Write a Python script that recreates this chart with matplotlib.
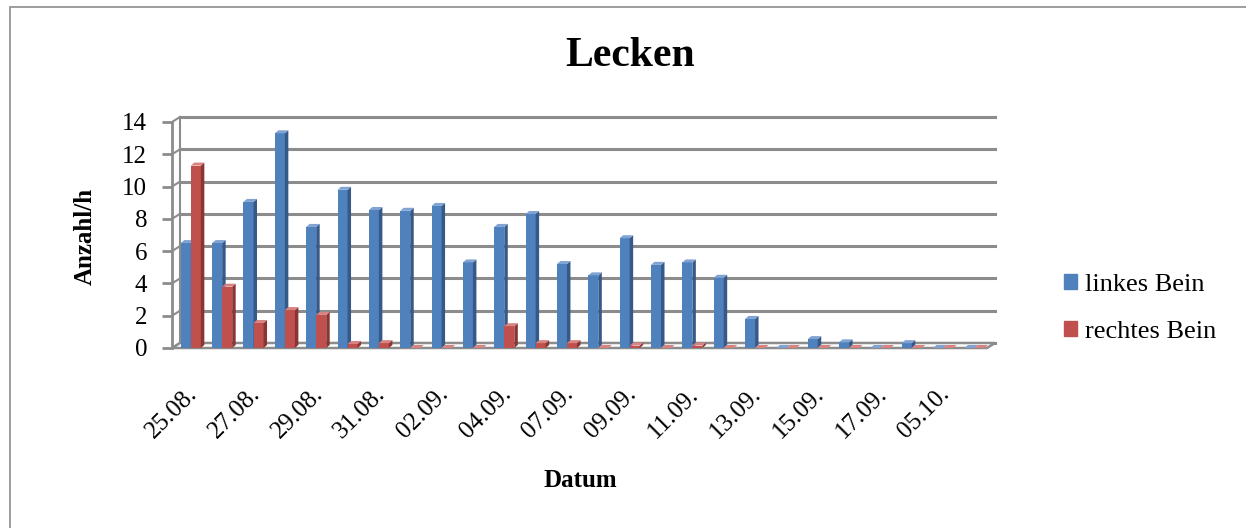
import matplotlib.pyplot as plt
from matplotlib.patches import Polygon, Rectangle, Patch

plt.rcParams['font.family'] = ['Liberation Serif', 'DejaVu Serif']

# Werte (Anzahl/h) je Tag
links = [6.5, 6.5, 9.05, 13.3, 7.5, 9.8, 8.55, 8.5, 8.8, 5.3, 7.5, 8.3, 5.2,
         4.5, 6.8, 5.15, 5.3, 4.35, 1.8, 0, 0.55, 0.35, 0, 0.3, 0, 0]
rechts = [11.3, 3.8, 1.55, 2.35, 2.05, 0.25, 0.3, 0, 0, 0, 1.35, 0.3, 0.3,
          0, 0.15, 0, 0.15, 0, 0, 0, 0, 0, 0, 0, 0, 0]
# nur jede zweite Kategorie ist beschriftet
tick_labels = ['25.08.', '27.08.', '29.08.', '31.08.', '02.09.', '04.09.', '07.09.',
               '09.09.', '11.09.', '13.09.', '15.09.', '17.09.', '05.10.']
yticks = [0, 2, 4, 6, 8, 10, 12, 14]

blue, blue_side, blue_top = '#4F81BD', '#36598A', '#7FA3D3'
red, red_side, red_top = '#C0504D', '#8A3533', '#D88380'
grid = '#8C8C8C'

W, H = 1246, 528
fig = plt.figure(figsize=(W / 100, H / 100), dpi=100)

# rahmen um das diagramm
fig.add_artist(Rectangle((10 / W, -0.2), 1.5, 1 - 7 / H + 0.2, transform=fig.transFigure,
                         fill=False, ec='#8C8C8C', lw=1.2))

ax = fig.add_axes([172 / W, 1 - 348 / H, 815 / W, 226 / H])
n = len(links)
ax.set_xlim(0, n)
ax.set_ylim(0, 14)
for s in ax.spines.values():
    s.set_visible(False)

# pixel pro dateneinheit -> 3d versatz
pxx = 815 / n
pxy = 226 / 14
dxw, dyw = 8 / pxx, 5 / pxy      # rueckwand
dxb, dyb = 3.5 / pxx, 3 / pxy    # balkentiefe

# gitter auf der rueckwand + schraege verbindungen
for v in yticks:
    ax.plot([dxw, n + dxw], [v + dyw, v + dyw], color=grid, lw=2.2, zorder=1, clip_on=False)
    ax.plot([0, dxw], [v, v + dyw], color=grid, lw=1.5, zorder=1, clip_on=False)
ax.plot([dxw, dxw], [dyw, 14 + dyw], color=grid, lw=1.5, zorder=1, clip_on=False)
ax.plot([0, 0], [0, 14], color=grid, lw=2, zorder=1, clip_on=False)
# boden
ax.add_patch(Polygon([(0, 0), (n, 0), (n + dxw, dyw), (dxw, dyw)], closed=True,
                     fc='white', ec=grid, lw=1.8, zorder=1.5, clip_on=False))

bw = 0.32
xb = [i + 0.28 for i in range(n)]
xr = [i + 0.28 + bw for i in range(n)]


def bar3d(x, h, front, side, top):
    ax.bar([x], [h], width=bw, align='edge', color=front, zorder=3)
    ax.add_patch(Polygon([(x + bw, 0), (x + bw + dxb, dyb), (x + bw + dxb, h + dyb), (x + bw, h)],
                         closed=True, fc=side, ec='none', zorder=3, clip_on=False))
    ax.add_patch(Polygon([(x, h), (x + bw, h), (x + bw + dxb, h + dyb), (x + dxb, h + dyb)],
                         closed=True, fc=top, ec='none', zorder=3, clip_on=False))


for i in range(n):
    bar3d(xb[i], links[i], blue, blue_side, blue_top)
    bar3d(xr[i], rechts[i], red, red_side, red_top)

ax.set_yticks(yticks)
ax.set_yticklabels([str(v) for v in yticks], fontsize=18)
ax.tick_params(axis='y', length=7, width=2, color=grid, pad=11)
ax.set_xticks([i + 0.7 for i in range(0, n, 2)])
ax.set_xticklabels(tick_labels, fontsize=18, rotation=45, ha='right', va='center',
                   rotation_mode='anchor')
ax.tick_params(axis='x', length=0, pad=31)

fig.text(630 / W, 1 - 66 / H, 'Lecken', fontsize=30, fontweight='bold', ha='center', va='baseline')
fig.text(580 / W, 1 - 487 / H, 'Datum', fontsize=18, fontweight='bold', ha='center', va='baseline')
fig.text(85 / W, 1 - 236 / H, 'Anzahl/h', fontsize=18, fontweight='bold', rotation=90,
         ha='center', va='center')

handles = [Patch(color=blue, label='linkes Bein'), Patch(color=red, label='rechtes Bein')]
fig.legend(handles=handles, loc='upper left', bbox_to_anchor=(1064 / W, 1 - 274 / H),
           frameon=False, fontsize=19, handlelength=0.5, handleheight=0.5,
           handletextpad=0.3, labelspacing=0.95, borderpad=0, borderaxespad=0)

fig.savefig('out.png', dpi=100)
